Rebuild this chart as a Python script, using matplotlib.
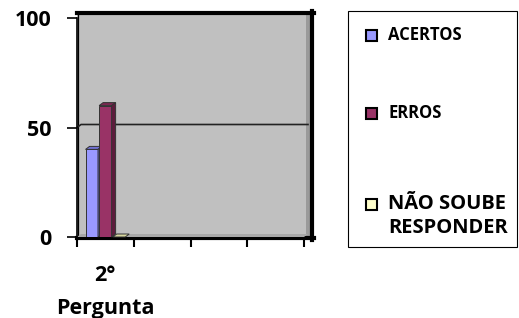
import matplotlib
matplotlib.use('Agg')
import matplotlib.pyplot as plt
from matplotlib.patches import Rectangle, Polygon
from matplotlib.lines import Line2D

plt.rcParams['font.family'] = ['Open Sans', 'DejaVu Sans']
plt.rcParams['font.weight'] = 'bold'

# dados
categorias = ['2°\nPergunta', '', '', '']
series = ['ACERTOS', 'ERROS', 'NÃO SOUBE\nRESPONDER']
acertos = [40]
erros = [60]
nao_soube = [0]
valores = [acertos, erros, nao_soube]
cores = ['#9999FF', '#993366', '#FFFFCC']
cores_topo = ['#7070D0', '#7A2850', '#D8D8A0']
cores_lado = ['#5C5CB0', '#5E1C3C', '#B8B888']

W, H = 519, 318


def fx(x):
    return x / W


def fy(y):
    return 1 - y / H


fig = plt.figure(figsize=(W / 100, H / 100), dpi=100)

# parede do fundo (efeito 3D do Excel)
fig.patches.append(Rectangle((fx(77), fy(238)), fx(313) - fx(77), fy(11) - fy(238),
                             transform=fig.transFigure, facecolor='#C0C0C0',
                             edgecolor='none', zorder=-3))
fig.patches.append(Rectangle((fx(77), fy(236)), 3 / W, fy(14) - fy(236),
                             transform=fig.transFigure, facecolor='#D4D4D4',
                             edgecolor='none', zorder=-3))
fig.patches.append(Rectangle((fx(306), fy(236)), 4 / W, fy(14) - fy(236),
                             transform=fig.transFigure, facecolor='#9A9A9A',
                             edgecolor='none', zorder=-3))
for xs, ys, lw in [([77, 314], [13, 13], 3.0), ([312, 312], [11, 240], 3.0),
                   ([77, 314], [238, 238], 3.0), ([77.5, 77.5], [13, 238], 1.0)]:
    fig.add_artist(Line2D([fx(v) for v in xs], [fy(v) for v in ys],
                          transform=fig.transFigure, color='black', lw=lw, zorder=-2))

ax = fig.add_axes([fx(77), fy(237), 227 / W, 219 / H])
ax.patch.set_visible(False)
ax.set_xlim(0, len(categorias))
ax.set_ylim(0, 100)

# profundidade em unidades de dados (4 px para a direita, 3 px para cima)
dx = 4 / (227 / len(categorias))
dy = 3 / (219 / 100)

# chão
ax.add_patch(Polygon([(0, 0), (dx, dy), (len(categorias) + dx, dy), (len(categorias), 0)],
                     closed=True, facecolor='#A8A8A8', edgecolor='none', zorder=1,
                     clip_on=False))

# linha de grade em 50
ax.plot([0, dx, len(categorias) + dx], [50, 50 + dy, 50 + dy], color='#222222',
        lw=1.2, zorder=2, clip_on=False)

largura = 0.22
passo = 0.24
for i, vals in enumerate(valores):
    for j, v in enumerate(vals):
        xc = j + 0.5 + (i - 1) * passo
        x0, x1 = xc - largura / 2, xc + largura / 2
        ax.bar(xc, v, largura, color=cores[i], edgecolor='#333333', lw=0.7, zorder=3)
        ax.add_patch(Polygon([(x0, v), (x0 + dx, v + dy), (x1 + dx, v + dy), (x1, v)],
                             closed=True, facecolor=cores_topo[i], edgecolor='#333333',
                             lw=0.7, zorder=3, clip_on=False))
        if v > 0:
            ax.add_patch(Polygon([(x1, 0), (x1 + dx, dy), (x1 + dx, v + dy), (x1, v)],
                                 closed=True, facecolor=cores_lado[i], edgecolor='#333333',
                                 lw=0.7, zorder=3, clip_on=False))

for s in ['top', 'right', 'bottom']:
    ax.spines[s].set_visible(False)
ax.spines['left'].set_color('black')
ax.spines['left'].set_linewidth(1.2)

ax.set_yticks([0, 50, 100])
ax.set_yticklabels(['0', '50', '100'], fontsize=15.5, fontweight='bold')
ax.tick_params(axis='y', direction='out', length=7, width=1.2, pad=11)

ax.set_xticks(range(len(categorias) + 1))
ax.set_xticklabels([])
ax.set_xticks([j + 0.5 for j in range(len(categorias))], minor=True)
ax.set_xticklabels(categorias, minor=True, fontsize=15.5, fontweight='bold', linespacing=1.75)
ax.tick_params(axis='x', which='major', direction='out', length=7, width=1.5, pad=2)
ax.tick_params(axis='x', which='minor', length=0, pad=20)

# legenda
fig.patches.append(Rectangle((fx(348), fy(247)), fx(517) - fx(348), fy(11) - fy(247),
                             transform=fig.transFigure, facecolor='white',
                             edgecolor='black', lw=0.8))
leg_y = [35, 113, 204]
leg_tam = [12, 12, 14.5]
for i, nome in enumerate(series):
    fig.patches.append(Rectangle((fx(366), fy(leg_y[i] + 5.5)), 11 / W, 11 / H,
                                 transform=fig.transFigure, facecolor=cores[i],
                                 edgecolor='black', lw=1.5))
    linhas = nome.split('\n')
    for k, linha in enumerate(linhas):
        fig.text(fx(388), fy(leg_y[i] + 24 * k), linha, fontsize=leg_tam[i],
                 fontweight='bold', va='center', ha='left')

plt.savefig('out.png', dpi=100)
plt.close()
